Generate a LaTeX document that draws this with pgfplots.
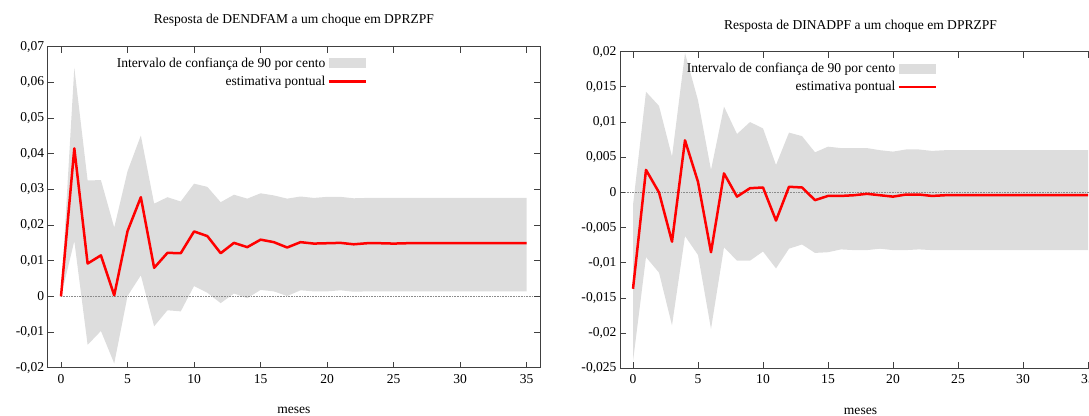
\documentclass[border=0pt]{standalone}
\usepackage{fontspec}
\setmainfont{Liberation Serif}
\usepackage{pgfplots}
\pgfplotsset{compat=1.18}
\usepackage{pgfplotstable}
\usepgfplotslibrary{fillbetween}
\definecolor{band}{HTML}{DDDDDD}
\definecolor{irfred}{HTML}{FF0000}

\pgfplotstableread{
t est lo up
0 0 0 0
1 0.0415 0.0155 0.0641
2 0.0092 -0.0136 0.0325
3 0.0115 -0.0097 0.0326
4 0.0003 -0.0188 0.0193
5 0.0183 0.0001 0.0351
6 0.0278 0.0059 0.0451
7 0.0080 -0.0084 0.0260
8 0.0122 -0.0039 0.0278
9 0.0121 -0.0042 0.0266
10 0.0182 0.0029 0.0316
11 0.0169 0.0010 0.0307
12 0.0121 -0.0019 0.0264
13 0.0150 0.0008 0.0285
14 0.0138 -0.0005 0.0274
15 0.0159 0.0018 0.0289
16 0.0152 0.0014 0.0283
17 0.0137 0.0001 0.0274
18 0.0152 0.0017 0.0280
19 0.0148 0.0014 0.0276
20 0.0149 0.0014 0.0279
21 0.0150 0.0017 0.0279
22 0.0146 0.0013 0.0275
23 0.0149 0.0014 0.0276
24 0.0149 0.0014 0.0276
25 0.0148 0.0014 0.0276
26 0.0149 0.0014 0.0276
27 0.0149 0.0014 0.0276
28 0.0149 0.0014 0.0276
29 0.0149 0.0014 0.0276
30 0.0149 0.0014 0.0276
31 0.0149 0.0014 0.0276
32 0.0149 0.0014 0.0276
33 0.0149 0.0014 0.0276
34 0.0149 0.0014 0.0276
35 0.0149 0.0014 0.0276
}\leftdata

\pgfplotstableread{
t est lo up
0 -0.0137 -0.0240 -0.0018
1 0.0032 -0.0092 0.0143
2 0.0000 -0.0114 0.0123
3 -0.0070 -0.0189 0.0051
4 0.0074 -0.0062 0.0198
5 0.0015 -0.0089 0.0131
6 -0.0085 -0.0194 0.0032
7 0.0027 -0.0078 0.0122
8 -0.0006 -0.0097 0.0083
9 0.0006 -0.0097 0.0100
10 0.0007 -0.0084 0.0091
11 -0.0040 -0.0108 0.0039
12 0.0008 -0.0080 0.0085
13 0.0007 -0.0074 0.0080
14 -0.0011 -0.0086 0.0057
15 -0.0005 -0.0085 0.0065
16 -0.0005 -0.0081 0.0063
17 -0.0004 -0.0082 0.0063
18 -0.0002 -0.0082 0.0063
19 -0.0004 -0.0080 0.0060
20 -0.0006 -0.0082 0.0058
21 -0.0003 -0.0082 0.0061
22 -0.0003 -0.0081 0.0061
23 -0.0005 -0.0082 0.0059
24 -0.0004 -0.0082 0.0060
25 -0.0004 -0.0082 0.0060
26 -0.0004 -0.0082 0.0060
27 -0.0004 -0.0082 0.0060
28 -0.0004 -0.0082 0.0060
29 -0.0004 -0.0082 0.0060
30 -0.0004 -0.0082 0.0060
31 -0.0004 -0.0082 0.0060
32 -0.0004 -0.0082 0.0060
33 -0.0004 -0.0082 0.0060
34 -0.0004 -0.0082 0.0060
35 -0.0004 -0.0082 0.0060
}\rightdata

\newcommand{\fs}{\fontsize{13.6}{15.5}\selectfont}

\pgfplotsset{irf/.style={
  scale only axis,
  xmin=-1, xmax=36,
  xtick={0,5,10,15,20,25,30,35},
  xticklabels={{0},{5},{10},{15},{20},{25},{30},{35}},
  scaled y ticks=false,
  tick align=inside,
  major tick length=6bp,
  axis line style={black!75, line width=0.8bp},
  every tick/.style={black!75, line width=0.8bp},
  tick label style={font=\fs, black},
  xticklabel style={yshift=-3bp},
  label style={font=\fs},
  xlabel={meses},
  xlabel style={at={(axis description cs:0.5,0)}, anchor=center, yshift=-43bp},
  title style={font=\fs, at={(axis description cs:0.5,1)}, anchor=south},
  legend style={draw=none, fill=none, font=\fs, legend cell align=right,
    anchor=north east, row sep=3bp, inner sep=0pt},
  legend plot pos=right,
}}

\begin{document}
\begin{tikzpicture}
\begin{axis}[irf,
  at={(47.7bp,-367.7bp)}, anchor=south west,
  width=492.3bp, height=321bp,
  ymin=-0.02, ymax=0.07,
  ytick={-0.02,-0.01,0,0.01,0.02,0.03,0.04,0.05,0.06,0.07},
  yticklabels={{-0,02},{-0,01},{0},{0,01},{0,02},{0,03},{0,04},{0,05},{0,06},{0,07}},
  title={Resposta de DENDFAM a um choque em DPRZPF},
  title style={yshift=11bp},
  legend style={at={(rel axis cs:0.6486,0.972)}},
]
\addplot[draw=none, name path=up, forget plot] table[x=t, y=up]{\leftdata};
\addplot[draw=none, name path=lo, forget plot] table[x=t, y=lo]{\leftdata};
\addplot[band, fill=band, draw=none,
  legend image code/.code={\fill[band] (0bp,-5bp) rectangle (37bp,5bp);}]
  fill between[of=up and lo];
\addlegendentry{Intervalo de confiança de 90 por cento}
\addplot[forget plot, black!45, densely dotted, line width=0.6bp] coordinates {(0,0) (35.5,0)};
\addplot[irfred, line width=2.5bp, line join=round, mark=none,
  legend image code/.code={\draw[irfred, line width=2.5bp] (0bp,0bp) -- (37bp,0bp);}]
  table[x=t, y=est]{\leftdata};
\addlegendentry{estimativa pontual}
\end{axis}

\begin{axis}[irf,
  at={(620bp,-368.3bp)}, anchor=south west,
  width=481bp, height=316.6bp,
  ymin=-0.025, ymax=0.02,
  ytick={-0.025,-0.02,-0.015,-0.01,-0.005,0,0.005,0.01,0.015,0.02},
  yticklabels={{-0,025},{-0,02},{-0,015},{-0,01},{-0,005},{0},{0,005},{0,01},{0,015},{0,02}},
  title={Resposta de DINADPF a um choque em DPRZPF},
  title style={yshift=10bp},
  legend style={at={(rel axis cs:0.659,0.97)}},
]
\addplot[draw=none, name path=up, forget plot] table[x=t, y=up]{\rightdata};
\addplot[draw=none, name path=lo, forget plot] table[x=t, y=lo]{\rightdata};
\addplot[band, fill=band, draw=none,
  legend image code/.code={\fill[band] (0bp,-5bp) rectangle (37bp,5bp);}]
  fill between[of=up and lo];
\addlegendentry{Intervalo de confiança de 90 por cento}
\addplot[forget plot, black!45, densely dotted, line width=0.6bp] coordinates {(-0.6,0) (36,0)};
\addplot[irfred, line width=2.5bp, line join=round, mark=none,
  legend image code/.code={\draw[irfred, line width=2.5bp] (0bp,0bp) -- (37bp,0bp);}]
  table[x=t, y=est]{\rightdata};
\addlegendentry{estimativa pontual}
\end{axis}
\pgfresetboundingbox
\path[use as bounding box] (0bp,0bp) rectangle (1089bp,-416bp);
\end{tikzpicture}
\end{document}
